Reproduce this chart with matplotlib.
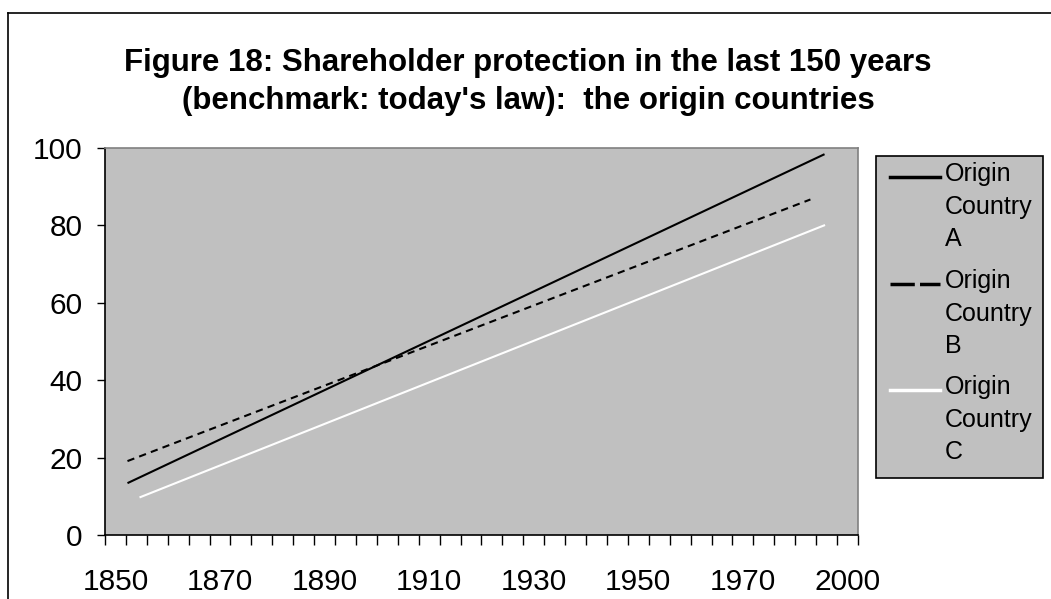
import numpy as np
import matplotlib
matplotlib.use("Agg")
import matplotlib.pyplot as plt
from matplotlib.lines import Line2D
from matplotlib.patches import Rectangle

# data (x in years, y in index points)
years_a = [1852.3, 1985.6]
vals_a = [13.4, 98.4]
years_b = [1852.3, 1982.9]
vals_b = [19.1, 86.7]
years_c = [1854.6, 1985.7]
vals_c = [9.7, 80.1]

series_names = ["Origin\nCountry\nA", "Origin\nCountry\nB", "Origin\nCountry\nC"]
tick_labels = ['1850', '1870', '1890', '1910', '1930', '1950', '1970', '2000']
y_ticks = [0, 20, 40, 60, 80, 100]

plt.rcParams['font.family'] = ['Liberation Sans', 'DejaVu Sans']

W, H = 1051, 599
fig = plt.figure(figsize=(W / 100, H / 100), dpi=100)
fig.patch.set_facecolor('white')

ax = fig.add_axes([105 / W, 1 - 535 / H, (858 - 105) / W, (535 - 148) / H])
ax.set_facecolor('#C0C0C0')

dash = (0, (3.5, 2.5))
ax.plot(years_a, vals_a, color='black', lw=1.5, solid_capstyle='butt')
ax.plot(years_b, vals_b, color='black', lw=1.5, linestyle=dash)
ax.plot(years_c, vals_c, color='white', lw=1.5, solid_capstyle='butt')

ax.set_xlim(1848, 1992)
ax.set_ylim(0, 100)

ax.set_yticks(y_ticks)
ax.set_yticklabels([str(v) for v in y_ticks], fontsize=21.5)
ax.tick_params(axis='y', direction='out', length=6, width=1, pad=10)

ax.set_xticks(np.arange(1850, 1991, 20))
ax.set_xticklabels(tick_labels, fontsize=21.5)
ax.set_xticks(np.arange(1848, 1993, 4), minor=True)
ax.tick_params(axis='x', which='major', length=0, pad=24)
ax.tick_params(axis='x', which='minor', direction='out', length=7, width=1)

for s in ['top', 'right']:
    ax.spines[s].set_color('#808080')
    ax.spines[s].set_linewidth(1.2)
for s in ['left', 'bottom']:
    ax.spines[s].set_color('black')
    ax.spines[s].set_linewidth(1.2)

# title
fig.text(528 / W, 1 - 63 / H, "Figure 18: Shareholder protection in the last 150 years",
         ha='center', va='center', fontsize=22.5, fontweight='bold')
fig.text(528 / W, 1 - 101 / H, "(benchmark: today's law):  the origin countries",
         ha='center', va='center', fontsize=22.5, fontweight='bold')

# chart border (cut by the image edge on the right and bottom)
fig.add_artist(Line2D([8 / W, 8 / W], [0, 1 - 13 / H], color='black', lw=1.2))
fig.add_artist(Line2D([8 / W, 1], [1 - 13 / H, 1 - 13 / H], color='black', lw=1.2))

# legend drawn by hand so the handle sits at the first text line
fig.add_artist(Rectangle((876 / W, 1 - 478 / H), (1043 - 876) / W, (478 - 156) / H,
                         facecolor='#C0C0C0', edgecolor='black', lw=1.2))
styles = [dict(color='black', linestyle='-'),
          dict(color='black', linestyle=(0, (7, 1.5))),
          dict(color='white', linestyle='-')]
entry_y = [177, 284, 390]
for name, st, ey in zip(series_names, styles, entry_y):
    fig.add_artist(Line2D([890 / W, 940 / W], [1 - ey / H, 1 - ey / H], lw=2.5, **st))
    fig.text(945 / W, 1 - (ey - 15) / H, name, ha='left', va='top', fontsize=18,
             linespacing=1.45)

fig.savefig('out.png', dpi=100, facecolor='white')
